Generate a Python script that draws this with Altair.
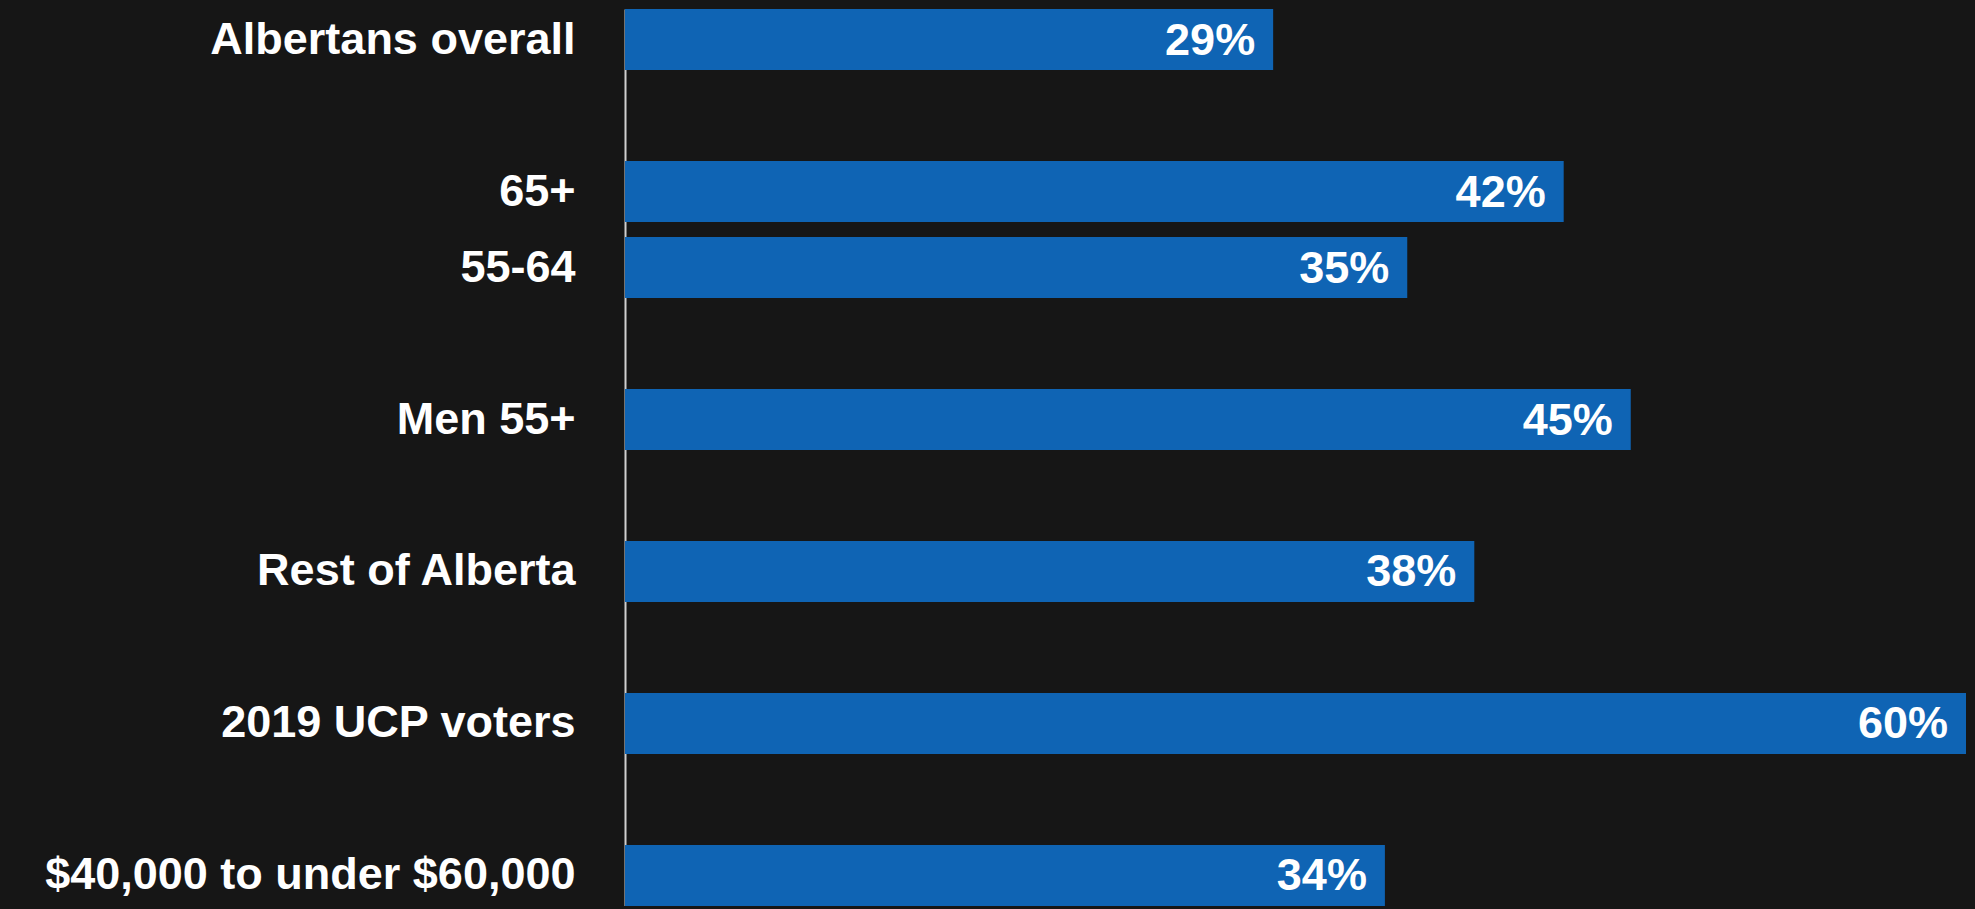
import altair as alt
import pandas as pd

# Row order (gap rows separate the groups)
slots = ["Albertans overall", "_gap1", "65+", "55-64", "_gap2", "Men 55+", "_gap3",
         "Rest of Alberta", "_gap4", "2019 UCP voters", "_gap5", "$40,000 to under $60,000"]

categories = ["Albertans overall", "65+", "55-64", "Men 55+", "Rest of Alberta",
              "2019 UCP voters", "$40,000 to under $60,000"]
values = [29, 42, 35, 45, 38, 60, 34]

df = pd.DataFrame({"category": categories, "value": values})
df["label"] = df["value"].astype(str) + "%"

FONT = "Liberation Sans"
BG = "#161616"
BAR = "#0f64b4"

y_enc = alt.Y(
    "category:N",
    sort=slots,
    scale=alt.Scale(domain=slots, paddingInner=0.197, paddingOuter=0),
    axis=alt.Axis(
        title=None,
        ticks=False,
        labelPadding=50,
        labelFont=FONT,
        labelFontSize=45,
        labelFontWeight="bold",
        labelColor="#ffffff",
        labelLimit=1000,
        domain=True,
        domainColor="#d0d0d0",
        domainWidth=2,
        grid=False,
        labelExpr="indexof(datum.label, '_gap') == 0 ? '' : datum.label",
    ),
)

x_enc = alt.X(
    "value:Q",
    scale=alt.Scale(domain=[0, 60], nice=False, zero=True),
    axis=None,
)

bars = alt.Chart(df).mark_bar(color=BAR).encode(x=x_enc, y=y_enc)

text = alt.Chart(df).mark_text(
    align="right",
    baseline="middle",
    dx=-18,
    dy=1,
    font=FONT,
    fontSize=45,
    fontWeight="bold",
    color="#ffffff",
).encode(x="value:Q", y=alt.Y("category:N", sort=slots), text="label:N")

chart = (
    alt.layer(bars, text)
    .properties(
        width=1341,
        height=897,
        background=BG,
        padding={"left": 617, "top": 1, "right": 0, "bottom": 0},
        autosize=alt.AutoSizeParams(type="none"),
    )
    .configure_view(strokeWidth=0)
)

save_kwargs = {}
try:
    import jinja2

    page_template = jinja2.Template(
        """<!DOCTYPE html>
<html>
<head>
  <style>
    body { background: #161616; }
    #{{ output_div }}.vega-embed { width: 100%; display: flex; }
  </style>
  <script type="text/javascript" src="{{ base_url }}/vega@{{ vega_version }}"></script>
  <script type="text/javascript" src="{{ base_url }}/vega-lite@{{ vegalite_version }}"></script>
  <script type="text/javascript" src="{{ base_url }}/vega-embed@{{ vegaembed_version }}"></script>
</head>
<body>
  <div id="{{ output_div }}"></div>
  <script>
    (function(vegaEmbed) {
      var spec = {{ spec }};
      var embedOpt = {{ embed_options }};
      vegaEmbed("#{{ output_div }}", spec, embedOpt);
    })(vegaEmbed);
  </script>
</body>
</html>
"""
    )
    save_kwargs["template"] = page_template
except Exception:
    save_kwargs = {}

try:
    chart.save("out.html", embed_options={"renderer": "svg", "actions": False}, **save_kwargs)
except Exception:
    chart.save("out.html", embed_options={"renderer": "svg", "actions": False})
